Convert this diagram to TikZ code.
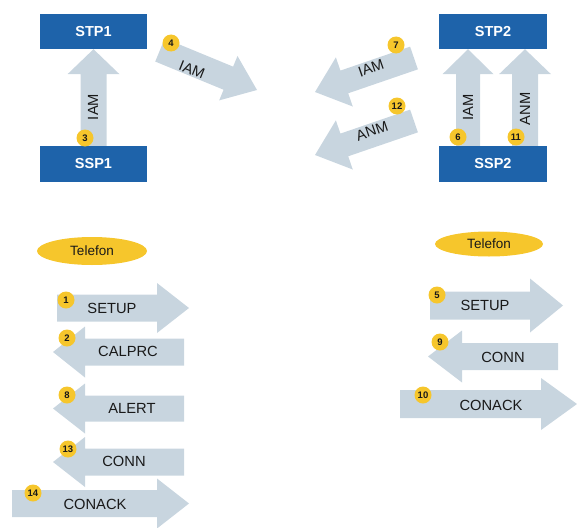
\documentclass[tikz,border=0pt]{standalone}
\usepackage{fontspec}
\setmainfont{Liberation Sans}
\usetikzlibrary{calc,shapes.geometric}

\definecolor{boxblue}{RGB}{30,99,170}
\definecolor{shaftgrey}{RGB}{200,213,223}
\definecolor{badgegold}{RGB}{246,198,44}
\definecolor{inkdark}{RGB}{25,25,25}

% Block arrow from #1 (tail centre) to #2 (tip):
% #3 shaft half width, #4 head half width, #5 head length
\newcommand\fatarrow[5]{%
  \coordinate (fa-base) at ($(#2)!#5!(#1)$);
  \fill[shaftgrey]
    ($(#1)!#3!90:(#2)$) -- ($(fa-base)!#3!90:(#2)$) --
    ($(fa-base)!#4!90:(#2)$) -- (#2) --
    ($(fa-base)!#4!-90:(#2)$) -- ($(fa-base)!#3!-90:(#2)$) --
    ($(#1)!#3!-90:(#2)$) -- cycle;
}

\tikzset{
  box/.style={fill=boxblue, text=white, font=\bfseries\fontsize{14.5}{16}\selectfont,
    minimum width=107pt, minimum height=35pt, inner sep=0pt},
  badge/.style={circle, fill=badgegold, minimum size=17pt, inner sep=0pt,
    text=inkdark, font=\bfseries\fontsize{9.5}{10}\selectfont},
  msg/.style={text=inkdark, inner sep=0pt, font=\fontsize{14.7}{16}\selectfont},
  phone/.style={ellipse, fill=badgegold, inner sep=0pt, text=inkdark,
    font=\fontsize{13.5}{15}\selectfont},
}

\begin{document}
\begin{tikzpicture}[x=1pt, y=-1pt]
\useasboundingbox (0,0) rectangle (577,527);

% ---- signalling points ----
\node[box] (stp1) at (93.5,31.5) {STP1};
\node[box, minimum height=36pt] (ssp1) at (93.5,164) {SSP1};
\node[box, minimum width=108pt] (stp2) at (493,31.5) {STP2};
\node[box, minimum width=108pt, minimum height=36pt] (ssp2) at (493,164) {SSP2};

% ---- free ends of the trunk messages ----
\coordinate (iam4-tail) at (160,50);   \coordinate (iam4-tip) at (257,90);
\coordinate (iam7-tail) at (414,58);   \coordinate (iam7-tip) at (315,92);
\coordinate (anm12-tail) at (414,121); \coordinate (anm12-tip) at (315,155);

% ---- ISUP messages ----
\fatarrow{ssp1.north}{stp1.south}{13pt}{26pt}{25pt}
\fatarrow{[xshift=-25pt]ssp2.north}{[xshift=-25pt]stp2.south}{12pt}{25.5pt}{25pt}
\fatarrow{[xshift=32pt]ssp2.north}{[xshift=32pt]stp2.south}{13pt}{26pt}{25pt}
\fatarrow{iam4-tail}{iam4-tip}{12.5pt}{24pt}{31pt}
\fatarrow{iam7-tail}{iam7-tip}{12pt}{26pt}{31pt}
\fatarrow{anm12-tail}{anm12-tip}{12pt}{26pt}{31pt}

\node[msg, rotate=90] (l3) at (93,107) {IAM};
\node[msg, rotate=90] (l6) at (468,107.5) {IAM};
\node[msg, rotate=90] (l11) at (525,109) {ANM};
\node[msg, rotate=-22] (l4) at (192,70) {IAM};
\node[msg, rotate=19] (l7) at (371,68) {IAM};
\node[msg, rotate=19] (l12) at (372,131) {ANM};

% ---- telephones ----
\node[phone, minimum width=110pt, minimum height=28pt] (tel1) at (92,251) {Telefon};
\node[phone, minimum width=108pt, minimum height=25pt] (tel2) at (489,244) {Telefon};

% ---- DSS1 messages, calling side ----
\coordinate (setup1-a) at (57,308);   \coordinate (setup1-b) at (189,308);
\coordinate (calprc-a) at (184,352);  \coordinate (calprc-b) at (53,352);
\coordinate (alert-a) at (184,408.5); \coordinate (alert-b) at (53,408.5);
\coordinate (conn1-a) at (184,462);   \coordinate (conn1-b) at (53,462);
\coordinate (conack1-a) at (12,503.5);\coordinate (conack1-b) at (189,503.5);
\fatarrow{setup1-a}{setup1-b}{13.5pt}{25pt}{32pt}
\fatarrow{calprc-a}{calprc-b}{13.5pt}{25.5pt}{32pt}
\fatarrow{alert-a}{alert-b}{13pt}{25pt}{32pt}
\fatarrow{conn1-a}{conn1-b}{13.5pt}{25pt}{32pt}
\fatarrow{conack1-a}{conack1-b}{13.5pt}{25pt}{32pt}

\node[msg] (m1) at (112,308) {SETUP};
\node[msg] (m2) at (128,351) {CALPRC};
\node[msg] (m8) at (132,408) {ALERT};
\node[msg] (m13) at (124,461) {CONN};
\node[msg] (m14) at (95,504) {CONACK};

% ---- DSS1 messages, called side ----
\coordinate (setup2-a) at (430,305.5); \coordinate (setup2-b) at (563,305.5);
\coordinate (conn2-a) at (558,356.5);  \coordinate (conn2-b) at (428,356.5);
\coordinate (conack2-a) at (400,404);  \coordinate (conack2-b) at (577,404);
\fatarrow{setup2-a}{setup2-b}{14pt}{27pt}{33pt}
\fatarrow{conn2-a}{conn2-b}{13.5pt}{26pt}{34pt}
\fatarrow{conack2-a}{conack2-b}{14pt}{26pt}{36pt}

\node[msg] (m5) at (485,305) {SETUP};
\node[msg] (m9) at (503,357) {CONN};
\node[msg] (m10) at (491,405) {CONACK};

% ---- sequence numbers ----
\node[badge] (b1) at (66,300) {1};
\node[badge] (b2) at (67,338) {2};
\node[badge] (b3) at (85,138) {3};
\node[badge] (b4) at (171,43) {4};
\node[badge] (b5) at (437,295) {5};
\node[badge] (b6) at (458,137) {6};
\node[badge] (b7) at (396,45) {7};
\node[badge] (b8) at (67,395) {8};
\node[badge] (b9) at (440,342) {9};
\node[badge] (b10) at (423,395) {10};
\node[badge] (b11) at (516,137) {11};
\node[badge] (b12) at (397,106) {12};
\node[badge] (b13) at (68,449) {13};
\node[badge] (b14) at (33,493) {14};
\end{tikzpicture}
\end{document}
